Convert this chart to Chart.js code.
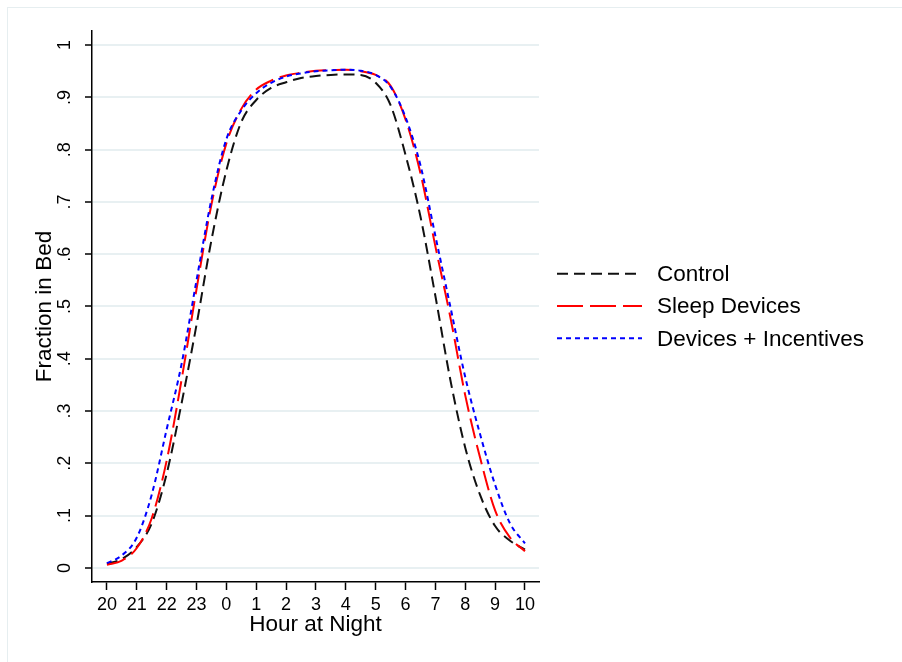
<!DOCTYPE html>
<html>
<head>
<meta charset="utf-8">
<script src="https://cdn.jsdelivr.net/npm/chart.js@4.4.1/dist/chart.umd.min.js"></script>
<style>
    html, body { margin: 0; padding: 0; background: #fff; }
    canvas { display: block; }
</style>
</head>
<body>
<canvas id="grafico" width="902" height="662"></canvas>
<script>
// horas desde as 20h, de meia em meia hora
const horas = [0, 0.5, 1, 1.5, 2, 2.5, 3, 3.5, 4, 4.5, 5, 5.5, 6, 6.5, 7, 7.5, 8, 8.5, 9, 9.5, 10, 10.5, 11, 11.5, 12, 12.5, 13, 13.5, 14];

const control = [0.008, 0.017, 0.04, 0.085, 0.18, 0.315, 0.465, 0.627, 0.76, 0.853, 0.895, 0.918, 0.929, 0.937, 0.941, 0.943, 0.944, 0.943, 0.928, 0.885, 0.79, 0.672, 0.52, 0.36, 0.23, 0.139, 0.08, 0.052, 0.035];
const sleepDevices = [0.006, 0.014, 0.038, 0.095, 0.205, 0.36, 0.533, 0.695, 0.812, 0.878, 0.915, 0.932, 0.942, 0.947, 0.951, 0.952, 0.953, 0.95, 0.943, 0.922, 0.858, 0.755, 0.615, 0.48, 0.33, 0.21, 0.11, 0.058, 0.032];
const devicesIncentives = [0.009, 0.024, 0.058, 0.14, 0.265, 0.39, 0.55, 0.705, 0.82, 0.875, 0.908, 0.928, 0.94, 0.946, 0.95, 0.952, 0.953, 0.951, 0.943, 0.92, 0.862, 0.77, 0.635, 0.5, 0.365, 0.255, 0.159, 0.085, 0.047];

const seriesNomes = ['Control', 'Sleep Devices', 'Devices + Incentives'];

const xTickValores = [0, 1, 2, 3, 4, 5, 6, 7, 8, 9, 10, 11, 12, 13, 14];
const xTickRotulos = ['20', '21', '22', '23', '0', '1', '2', '3', '4', '5', '6', '7', '8', '9', '10'];
const yTickValores = [0, 0.1, 0.2, 0.3, 0.4, 0.5, 0.6, 0.7, 0.8, 0.9, 1];
const yTickRotulos = ['0', '.1', '.2', '.3', '.4', '.5', '.6', '.7', '.8', '.9', '1'];

function pontos(valores) {
    return horas.map(function (h, i) { return { x: h, y: valores[i] }; });
}

// moldura clara em volta do gráfico
const moldura = {
    id: 'moldura',
    beforeDraw(chart) {
        const ctx = chart.ctx;
        ctx.save();
        ctx.fillStyle = '#fff';
        ctx.fillRect(0, 0, chart.width, chart.height);
        ctx.strokeStyle = '#e6eef0';
        ctx.lineWidth = 1;
        ctx.strokeRect(7.5, 7.5, chart.width, chart.height);
        ctx.restore();
    }
};

// legenda à direita, com o tracejado de cada série
const legendaLateral = {
    id: 'legendaLateral',
    afterDraw(chart) {
        const ctx = chart.ctx;
        const area = chart.chartArea;
        const meio = (area.top + area.bottom) / 2;
        const x0 = area.right + 18;
        const x1 = x0 + 85;
        ctx.save();
        ctx.font = '22.5px "Liberation Sans", Arial, sans-serif';
        ctx.textBaseline = 'middle';
        ctx.fillStyle = '#000';
        chart.data.datasets.forEach(function (ds, i) {
            const y = meio + (i - 1) * 32.3 - 0.5;
            ctx.beginPath();
            ctx.setLineDash(ds.legendDash || ds.borderDash);
            ctx.strokeStyle = ds.borderColor;
            ctx.lineWidth = ds.borderWidth;
            ctx.moveTo(x0, y);
            ctx.lineTo(x1, y);
            ctx.stroke();
            ctx.setLineDash([]);
            ctx.fillText(ds.label, x1 + 15, y + 1);
        });
        ctx.restore();
    }
};

const contexto = document.getElementById('grafico').getContext('2d');

const meuGrafico = new Chart(contexto, {
    type: 'line',
    data: {
        datasets: [{
            label: seriesNomes[0],
            data: pontos(control),
            borderColor: '#111',
            borderWidth: 2,
            borderDash: [11, 6],
            order: 2
        }, {
            label: seriesNomes[1],
            data: pontos(sleepDevices),
            borderColor: '#ff0000',
            borderWidth: 2,
            borderDash: [20, 7],
            legendDash: [26, 7],
            order: 1
        }, {
            label: seriesNomes[2],
            data: pontos(devicesIncentives),
            borderColor: '#0000ff',
            borderWidth: 2,
            borderDash: [5, 4],
            order: 0
        }]
    },
    options: {
        responsive: false,
        animation: false,
        devicePixelRatio: 1,
        cubicInterpolationMode: 'monotone',
        elements: { point: { radius: 0 }, line: { fill: false } },
        layout: { padding: { top: 31, right: 363, bottom: 0, left: 0 } },
        plugins: { legend: { display: false }, tooltip: { enabled: false } },
        scales: {
            x: {
                type: 'linear',
                min: -0.5,
                max: 14.47,
                afterBuildTicks: function (eixo) {
                    eixo.ticks = xTickValores.map(function (v) { return { value: v }; });
                },
                afterFit: function (eixo) { eixo.height = 80; },
                ticks: {
                    color: '#000',
                    padding: 4,
                    autoSkip: false,
                    maxRotation: 0,
                    font: { family: '"Liberation Sans", Arial, sans-serif', size: 18 },
                    callback: function (v, i) { return xTickRotulos[i]; }
                },
                grid: { drawOnChartArea: false, tickColor: '#000', tickLength: 8, tickWidth: 1.5 },
                border: { color: '#000', width: 1.5 },
                title: {
                    display: true,
                    text: 'Hour at Night',
                    color: '#000',
                    padding: { top: 0, bottom: 24 },
                    font: { family: '"Liberation Sans", Arial, sans-serif', size: 22.5 }
                }
            },
            y: {
                min: -0.027,
                max: 1.027,
                afterBuildTicks: function (eixo) {
                    eixo.ticks = yTickValores.map(function (v) { return { value: v }; });
                },
                afterFit: function (eixo) { eixo.width = 92; },
                ticks: {
                    color: '#000',
                    padding: 12,
                    minRotation: 90,
                    maxRotation: 90,
                    crossAlign: 'center',
                    font: { family: '"Liberation Sans", Arial, sans-serif', size: 18 },
                    callback: function (v, i) { return yTickRotulos[i]; }
                },
                grid: { color: '#e8f0f2', lineWidth: 2, tickColor: '#000', tickLength: 7, tickWidth: 1.5 },
                border: { color: '#000', width: 1.5 },
                title: {
                    display: true,
                    text: 'Fraction in Bed',
                    color: '#000',
                    padding: { top: 31, bottom: 0 },
                    font: { family: '"Liberation Sans", Arial, sans-serif', size: 22.5 }
                }
            }
        }
    },
    plugins: [moldura, legendaLateral]
});
</script>
</body>
</html>
